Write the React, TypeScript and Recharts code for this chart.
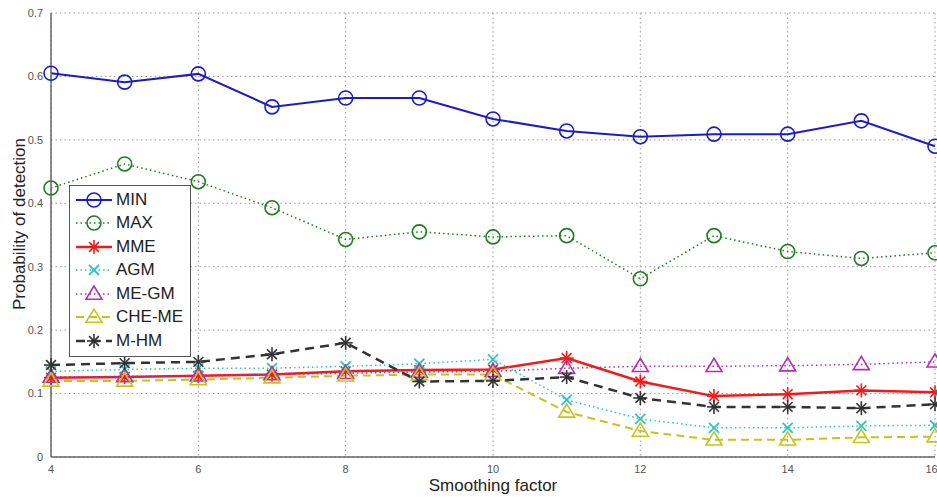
import React from 'react';
import { CartesianGrid, Label, Line, LineChart, XAxis, YAxis } from 'recharts';

const smoothing = [4, 5, 6, 7, 8, 9, 10, 11, 12, 13, 14, 15, 16];
const minVals = [0.605, 0.591, 0.604, 0.552, 0.566, 0.566, 0.533, 0.514, 0.505, 0.509, 0.509, 0.53, 0.49];
const maxVals = [0.424, 0.462, 0.434, 0.393, 0.343, 0.355, 0.347, 0.349, 0.281, 0.349, 0.324, 0.313, 0.322];
const mmeVals = [0.125, 0.126, 0.128, 0.13, 0.135, 0.137, 0.138, 0.156, 0.119, 0.096, 0.099, 0.105, 0.102];
const agmVals = [0.135, 0.138, 0.14, 0.14, 0.143, 0.147, 0.154, 0.09, 0.06, 0.046, 0.046, 0.049, 0.05];
const meGmVals = [0.126, 0.127, 0.128, 0.13, 0.132, 0.134, 0.135, 0.14, 0.143, 0.143, 0.144, 0.146, 0.15];
const cheMeVals = [0.12, 0.12, 0.122, 0.125, 0.128, 0.13, 0.13, 0.071, 0.041, 0.027, 0.027, 0.031, 0.032];
const mHmVals = [0.145, 0.148, 0.15, 0.162, 0.18, 0.119, 0.12, 0.126, 0.093, 0.079, 0.079, 0.077, 0.083];

const xTicks = [4, 6, 8, 10, 12, 14, 16];
const yTicks = [0, 0.1, 0.2, 0.3, 0.4, 0.5, 0.6, 0.7];

type Shape = 'circle' | 'star' | 'x' | 'triangle';

const series = [
  { key: 'MIN', values: minVals, color: '#1c1cc4', shape: 'circle' as Shape, dash: undefined, width: 2 },
  { key: 'MAX', values: maxVals, color: '#1e7d1e', shape: 'circle' as Shape, dash: '1.5 3', width: 1.5 },
  { key: 'MME', values: mmeVals, color: '#f21a1a', shape: 'star' as Shape, dash: undefined, width: 2.5 },
  { key: 'AGM', values: agmVals, color: '#2ec4c4', shape: 'x' as Shape, dash: '1.5 3', width: 1.5 },
  { key: 'ME-GM', values: meGmVals, color: '#b32cb3', shape: 'triangle' as Shape, dash: '1.5 3', width: 1.5 },
  { key: 'CHE-ME', values: cheMeVals, color: '#c4c41c', shape: 'triangle' as Shape, dash: '8 5', width: 2 },
  { key: 'M-HM', values: mHmVals, color: '#333333', shape: 'star' as Shape, dash: '9 6', width: 2.5 },
];

const data = smoothing.map((x, i) => {
  const row: Record<string, number> = { x };
  series.forEach((s) => {
    row[s.key] = s.values[i];
  });
  return row;
});

const Marker = ({ cx, cy, shape, color }: { cx: number; cy: number; shape: Shape; color: string }) => {
  if (shape === 'circle') {
    return <circle cx={cx} cy={cy} r={7} fill="none" stroke={color} strokeWidth={1.6} />;
  }
  if (shape === 'triangle') {
    const r = 8;
    return (
      <polygon
        points={`${cx},${cy - r} ${cx - r},${cy + r * 0.65} ${cx + r},${cy + r * 0.65}`}
        fill="none"
        stroke={color}
        strokeWidth={1.6}
      />
    );
  }
  if (shape === 'x') {
    const r = 5;
    return (
      <g stroke={color} strokeWidth={1.8}>
        <line x1={cx - r} y1={cy - r} x2={cx + r} y2={cy + r} />
        <line x1={cx - r} y1={cy + r} x2={cx + r} y2={cy - r} />
      </g>
    );
  }
  const r = 7;
  const d = r * 0.7;
  return (
    <g stroke={color} strokeWidth={1.6}>
      <line x1={cx} y1={cy - r} x2={cx} y2={cy + r} />
      <line x1={cx - r} y1={cy} x2={cx + r} y2={cy} />
      <line x1={cx - d} y1={cy - d} x2={cx + d} y2={cy + d} />
      <line x1={cx - d} y1={cy + d} x2={cx + d} y2={cy - d} />
    </g>
  );
};

const LegendBox = () => (
  <div
    style={{
      position: 'absolute',
      left: 69,
      top: 185,
      border: '1.5px solid #555',
      background: '#fff',
      width: 120,
      padding: '2px 0 3px 0',
      fontFamily: 'Liberation Sans, Arial, sans-serif',
      fontSize: 17,
      color: '#222',
    }}
  >
    {series.map((s) => (
      <div key={s.key} style={{ display: 'flex', alignItems: 'center', height: 23.5 }}>
        <svg width={42} height={20} style={{ marginLeft: 4 }}>
          <line x1={2} y1={10} x2={38} y2={10} stroke={s.color} strokeWidth={s.width} strokeDasharray={s.dash} />
          <Marker cx={20} cy={10} shape={s.shape} color={s.color} />
        </svg>
        <span>{s.key}</span>
      </div>
    ))}
  </div>
);

const tickStyle = { fill: '#555', fontSize: 11, fontFamily: 'Liberation Sans, Arial, sans-serif' };

export default function App() {
  return (
    <div style={{ position: 'absolute', left: 0, top: 0, width: 937, height: 497, background: '#fff' }}>
      <LineChart width={937} height={497} data={data} margin={{ top: 13, right: 2, bottom: 0, left: 0 }}>
        <CartesianGrid stroke="#999" strokeDasharray="1.5 3" />
        <XAxis
          dataKey="x"
          type="number"
          domain={[4, 16]}
          ticks={xTicks}
          height={40}
          tick={tickStyle}
          tickLine={false}
          axisLine={{ stroke: '#666', strokeWidth: 1.5 }}
        >
          <Label
            value="Smoothing factor"
            position="insideBottom"
            offset={6}
            style={{ fill: '#222', fontSize: 17, fontFamily: 'Liberation Sans, Arial, sans-serif' }}
          />
        </XAxis>
        <XAxis xAxisId="top" dataKey="x" type="number" domain={[4, 16]} orientation="top" height={0} tick={false} tickLine={false} axisLine={{ stroke: '#666', strokeWidth: 1.5 }} />
        <YAxis
          domain={[0, 0.7]}
          ticks={yTicks}
          width={51}
          tick={tickStyle}
          tickLine={false}
          tickFormatter={(v: number) => (v === 0 ? '0' : String(v))}
          axisLine={{ stroke: '#666', strokeWidth: 1.5 }}
        >
          <Label
            content={() => (
              <text
                x={19}
                y={224}
                transform="rotate(-90 19 224)"
                textAnchor="middle"
                dominantBaseline="central"
                style={{ fill: '#222', fontSize: 17, fontFamily: 'Liberation Sans, Arial, sans-serif' }}
              >
                Probability of detection
              </text>
            )}
          />
        </YAxis>
        <YAxis yAxisId="right" orientation="right" domain={[0, 0.7]} width={0} tick={false} tickLine={false} axisLine={{ stroke: '#666', strokeWidth: 1.5 }} />
        {series.map((s) => (
          <Line
            key={s.key}
            dataKey={s.key}
            type="linear"
            stroke={s.color}
            strokeWidth={s.width}
            strokeDasharray={s.dash}
            isAnimationActive={false}
            dot={(p: any) => <Marker key={`${s.key}-${p.index}`} cx={p.cx} cy={p.cy} shape={s.shape} color={s.color} />}
            activeDot={false}
          />
        ))}
      </LineChart>
      <LegendBox />
    </div>
  );
}
